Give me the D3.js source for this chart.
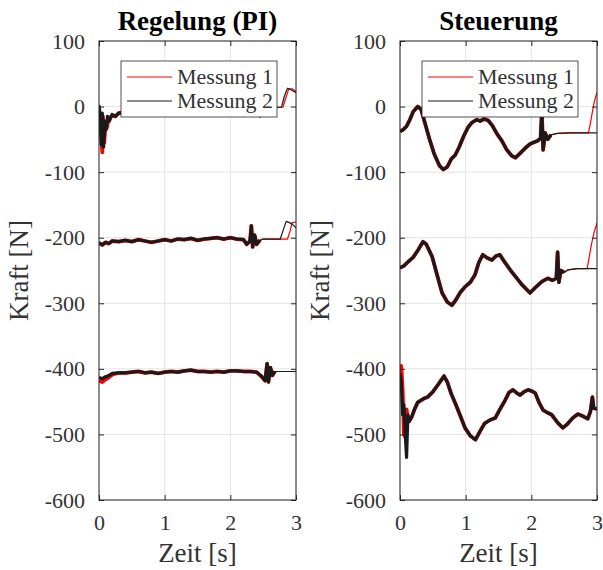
<!DOCTYPE html>
<html lang="en">
<head>
<meta charset="UTF-8">
<title>Regelung vs Steuerung</title>
<script src="https://cdnjs.cloudflare.com/ajax/libs/d3/7.8.5/d3.min.js"></script>
<style>
  body { margin: 0; background: #fff; }
  svg { display: block; }
  svg text { font-family: "Liberation Serif", "DejaVu Serif", serif !important; fill: #333; }
</style>
</head>
<body>
<svg id="chart" width="603" height="570"></svg>
<script>
// x ticks / y ticks
const xTicks = [0, 1, 2, 3];
const yTicks = [-600, -500, -400, -300, -200, -100, 0, 100];
const legendLabels = ["Messung 1", "Messung 2"];

// Regelung (PI), Messung 2 (black), [t, F]
const reg0 = [[0,2],[0.02,-20],[0.035,-58],[0.05,-10],[0.07,-62],[0.09,-22],[0.11,-35],[0.13,-15],[0.16,-22],[0.2,-12],[0.25,-15],[0.3,-10],[0.4,-8],[0.6,-6],[1.0,-5],[1.5,-4],[2.0,-3],[2.4,-8],[2.45,-14],[2.5,-2],[2.6,-1],[2.78,-1],[2.82,15],[2.87,28],[2.92,26],[3,21]];
const reg200 = [[0,-208],[0.05,-211],[0.1,-207],[0.15,-209],[0.2,-205],[0.3,-206],[0.4,-204],[0.5,-206],[0.6,-203],[0.7,-205],[0.8,-207],[0.9,-205],[1.0,-203],[1.1,-205],[1.2,-202],[1.3,-203],[1.4,-201],[1.5,-204],[1.6,-202],[1.7,-201],[1.8,-200],[1.9,-202],[2.0,-200],[2.1,-202],[2.2,-203],[2.25,-210],[2.3,-205],[2.32,-182],[2.34,-214],[2.37,-196],[2.4,-210],[2.45,-204],[2.5,-202],[2.6,-202],[2.76,-202],[2.8,-190],[2.85,-175],[2.9,-177],[2.95,-180],[3,-185]];
const reg400 = [[0,-413],[0.05,-415],[0.1,-412],[0.15,-410],[0.2,-407],[0.3,-406],[0.4,-406],[0.5,-405],[0.6,-404],[0.7,-406],[0.8,-405],[0.9,-407],[1.0,-405],[1.1,-404],[1.2,-405],[1.3,-403],[1.4,-402],[1.5,-404],[1.6,-404],[1.7,-405],[1.8,-404],[1.9,-405],[2.0,-403],[2.1,-403],[2.2,-404],[2.3,-404],[2.4,-405],[2.48,-412],[2.53,-418],[2.56,-392],[2.58,-420],[2.61,-398],[2.64,-410],[2.68,-404],[2.8,-404],[3,-404]];

// Regelung (PI), Messung 1 (red): start and end pieces where it differs
const reg0Head = [[0,0],[0.03,-35],[0.05,-70],[0.06,-15],[0.08,-55],[0.1,-25],[0.12,-32],[0.15,-18],[0.2,-14]];
const reg0Tail = [[2.8,-1],[2.84,12],[2.89,27],[2.94,27],[3,23]];
const reg200Tail = [[2.76,-202],[2.87,-202],[2.91,-190],[2.94,-177],[3,-176]];
const reg400Head = [[0,-418],[0.05,-420],[0.1,-416],[0.15,-413],[0.2,-409]];

// Steuerung, Messung 2 (black)
const st0 = [[0,-38],[0.05,-35],[0.1,-30],[0.15,-20],[0.2,-8],[0.27,0],[0.32,-4],[0.38,-25],[0.45,-50],[0.52,-72],[0.6,-90],[0.66,-96],[0.72,-92],[0.78,-80],[0.84,-74],[0.9,-62],[0.97,-45],[1.04,-31],[1.1,-24],[1.17,-20],[1.22,-22],[1.28,-19],[1.34,-21],[1.4,-28],[1.48,-42],[1.55,-52],[1.62,-65],[1.7,-75],[1.76,-78],[1.82,-72],[1.9,-64],[1.98,-57],[2.05,-54],[2.1,-52],[2.14,-48],[2.16,-8],[2.18,-66],[2.21,-40],[2.25,-50],[2.3,-43],[2.4,-41],[2.6,-40],[3,-40]];
const st200 = [[0,-246],[0.06,-243],[0.12,-237],[0.2,-230],[0.28,-218],[0.35,-206],[0.4,-210],[0.49,-229],[0.56,-255],[0.64,-284],[0.72,-298],[0.79,-303],[0.85,-295],[0.92,-283],[0.99,-275],[1.07,-268],[1.14,-257],[1.2,-238],[1.26,-226],[1.33,-231],[1.4,-234],[1.46,-228],[1.52,-226],[1.6,-238],[1.7,-252],[1.78,-262],[1.86,-272],[1.98,-284],[2.06,-276],[2.16,-267],[2.25,-262],[2.32,-265],[2.38,-262],[2.4,-222],[2.42,-268],[2.45,-250],[2.5,-253],[2.56,-249],[2.7,-247],[3,-247]];
const st400 = [[0,-407],[0.02,-420],[0.04,-470],[0.06,-455],[0.08,-500],[0.1,-535],[0.12,-470],[0.14,-480],[0.18,-473],[0.22,-462],[0.27,-451],[0.35,-446],[0.42,-443],[0.5,-435],[0.58,-424],[0.67,-411],[0.72,-420],[0.78,-438],[0.84,-452],[0.92,-472],[0.99,-490],[1.07,-502],[1.15,-508],[1.22,-495],[1.29,-483],[1.37,-478],[1.45,-475],[1.52,-462],[1.6,-448],[1.66,-436],[1.72,-432],[1.78,-437],[1.83,-440],[1.89,-435],[1.95,-432],[2.01,-434],[2.06,-437],[2.12,-452],[2.18,-463],[2.25,-467],[2.31,-470],[2.4,-482],[2.48,-490],[2.55,-484],[2.63,-475],[2.71,-469],[2.78,-472],[2.86,-476],[2.9,-465],[2.93,-443],[2.95,-460],[3,-461]];

// Steuerung, Messung 1 (red) pieces
const st0Tail = [[2.6,-40],[2.87,-40],[2.9,-25],[2.93,-8],[2.96,8],[3,22]];
const st200Tail = [[2.7,-247],[2.85,-247],[2.88,-230],[2.92,-208],[2.96,-190],[3,-178]];
const st400Head = [[0,-394],[0.02,-396],[0.04,-432],[0.06,-500],[0.08,-504],[0.1,-462],[0.12,-476]];

// where the measurement noise ends (thick band before, thin line after)
const noiseEnd = { reg0: 2.55, reg200: 2.48, reg400: 2.7, st0: 2.3, st200: 2.52, st400: 3.01 };

function splice(head, base, tail) {
  const t0 = head.length ? head[head.length - 1][0] : -1;
  const t1 = tail.length ? tail[0][0] : 99;
  return head.concat(base.filter(d => d[0] > t0 && d[0] < t1), tail);
}

const panels = [
  { title: "Regelung (PI)", left: 99, series: [
      { key: "reg0", m1: splice(reg0Head, reg0, reg0Tail), m2: reg0 },
      { key: "reg200", m1: splice([], reg200, reg200Tail), m2: reg200 },
      { key: "reg400", m1: splice(reg400Head, reg400, []), m2: reg400 } ] },
  { title: "Steuerung", left: 400, series: [
      { key: "st0", m1: splice([], st0, st0Tail), m2: st0 },
      { key: "st200", m1: splice([], st200, st200Tail), m2: st200 },
      { key: "st400", m1: splice(st400Head, st400, []), m2: st400 } ] }
];

const svg = d3.select("#chart");
const W = 197, yTop = 41, yBot = 500;
const red = "#ff0000", black = "#1a1a1a";
const serif = '"Liberation Serif", "DejaVu Serif", serif';

panels.forEach(p => {
  const x = d3.scaleLinear().domain([0, 3]).range([p.left, p.left + W]);
  const y = d3.scaleLinear().domain([-600, 100]).range([yBot, yTop]);
  const g = svg.append("g");
  const clipId = "clip" + p.left;
  svg.append("clipPath").attr("id", clipId).append("rect")
    .attr("x", p.left).attr("y", yTop).attr("width", W).attr("height", yBot - yTop);

  // grid
  g.selectAll(".gx").data(xTicks).join("line")
    .attr("x1", d => x(d)).attr("x2", d => x(d)).attr("y1", yTop).attr("y2", yBot)
    .attr("stroke", "#e3e3e3").attr("stroke-width", 1);
  g.selectAll(".gy").data(yTicks).join("line")
    .attr("y1", d => y(d)).attr("y2", d => y(d)).attr("x1", p.left).attr("x2", p.left + W)
    .attr("stroke", "#e3e3e3").attr("stroke-width", 1);

  // lines
  const line = d3.line().x(d => x(d[0])).y(d => y(d[1]));
  const lg = g.append("g").attr("clip-path", `url(#${clipId})`);
  p.series.forEach(s => {
    const end = noiseEnd[s.key];
    [[s.m1, red, 3.8], [s.m2, black, 3.2]].forEach(([data, col, wide]) => {
      lg.append("path").attr("d", line(data)).attr("fill", "none")
        .attr("stroke", col).attr("stroke-width", 1.2).attr("stroke-linejoin", "round");
      lg.append("path").attr("d", line(data.filter(d => d[0] <= end))).attr("fill", "none")
        .attr("stroke", col).attr("stroke-width", wide).attr("stroke-linejoin", "round");
    });
  });

  // axes (box with inward ticks)
  const axisCol = "#262626";
  g.append("rect").attr("x", p.left).attr("y", yTop).attr("width", W).attr("height", yBot - yTop)
    .attr("fill", "none").attr("stroke", axisCol).attr("stroke-width", 1);
  const fmt = d => String(d);
  const axB = d3.axisBottom(x).tickValues(xTicks).tickSize(-5).tickPadding(14).tickFormat(fmt);
  const axL = d3.axisLeft(y).tickValues(yTicks).tickSize(-5).tickPadding(14).tickFormat(fmt);
  const axT = d3.axisTop(x).tickValues(xTicks).tickSize(-5).tickFormat("");
  const axR = d3.axisRight(y).tickValues(yTicks).tickSize(-5).tickFormat("");
  [[axB, `translate(0,${yBot})`], [axL, `translate(${p.left},0)`],
   [axT, `translate(0,${yTop})`], [axR, `translate(${p.left + W},0)`]].forEach(([ax, tr]) => {
    const a = g.append("g").attr("transform", tr).call(ax).attr("font-family", serif);
    a.select(".domain").remove();
    a.selectAll(".tick line").attr("stroke", axisCol);
    a.selectAll(".tick text").style("font-family", serif).attr("font-size", 22);
  });

  // labels
  g.append("text").attr("x", p.left + W / 2).attr("y", 30).attr("text-anchor", "middle")
    .style("font-family", serif).attr("font-size", 27).attr("font-weight", "bold").style("fill", "#000").text(p.title);
  g.append("text").attr("x", p.left + W / 2).attr("y", 562).attr("text-anchor", "middle")
    .style("font-family", serif).attr("font-size", 27).text("Zeit [s]");
  g.append("text").attr("transform", `translate(${p.left - 71},${(yTop + yBot) / 2}) rotate(-90)`)
    .attr("text-anchor", "middle").style("font-family", serif).attr("font-size", 27).text("Kraft [N]");

  // legend
  const lx = p.left + 22, ly = 61;
  const leg = g.append("g");
  leg.append("rect").attr("x", lx).attr("y", ly).attr("width", 156).attr("height", 56)
    .attr("fill", "#fff").attr("stroke", "#262626").attr("stroke-width", 0.8);
  legendLabels.forEach((lab, i) => {
    const yy = ly + 16 + i * 24;
    leg.append("line").attr("x1", lx + 6).attr("x2", lx + 51).attr("y1", yy).attr("y2", yy)
      .attr("stroke", i === 0 ? red : black).attr("stroke-width", 1);
    leg.append("text").attr("x", lx + 56).attr("y", yy + 7).style("font-family", serif)
      .attr("font-size", 22).text(lab);
  });
});
</script>
</body>
</html>
